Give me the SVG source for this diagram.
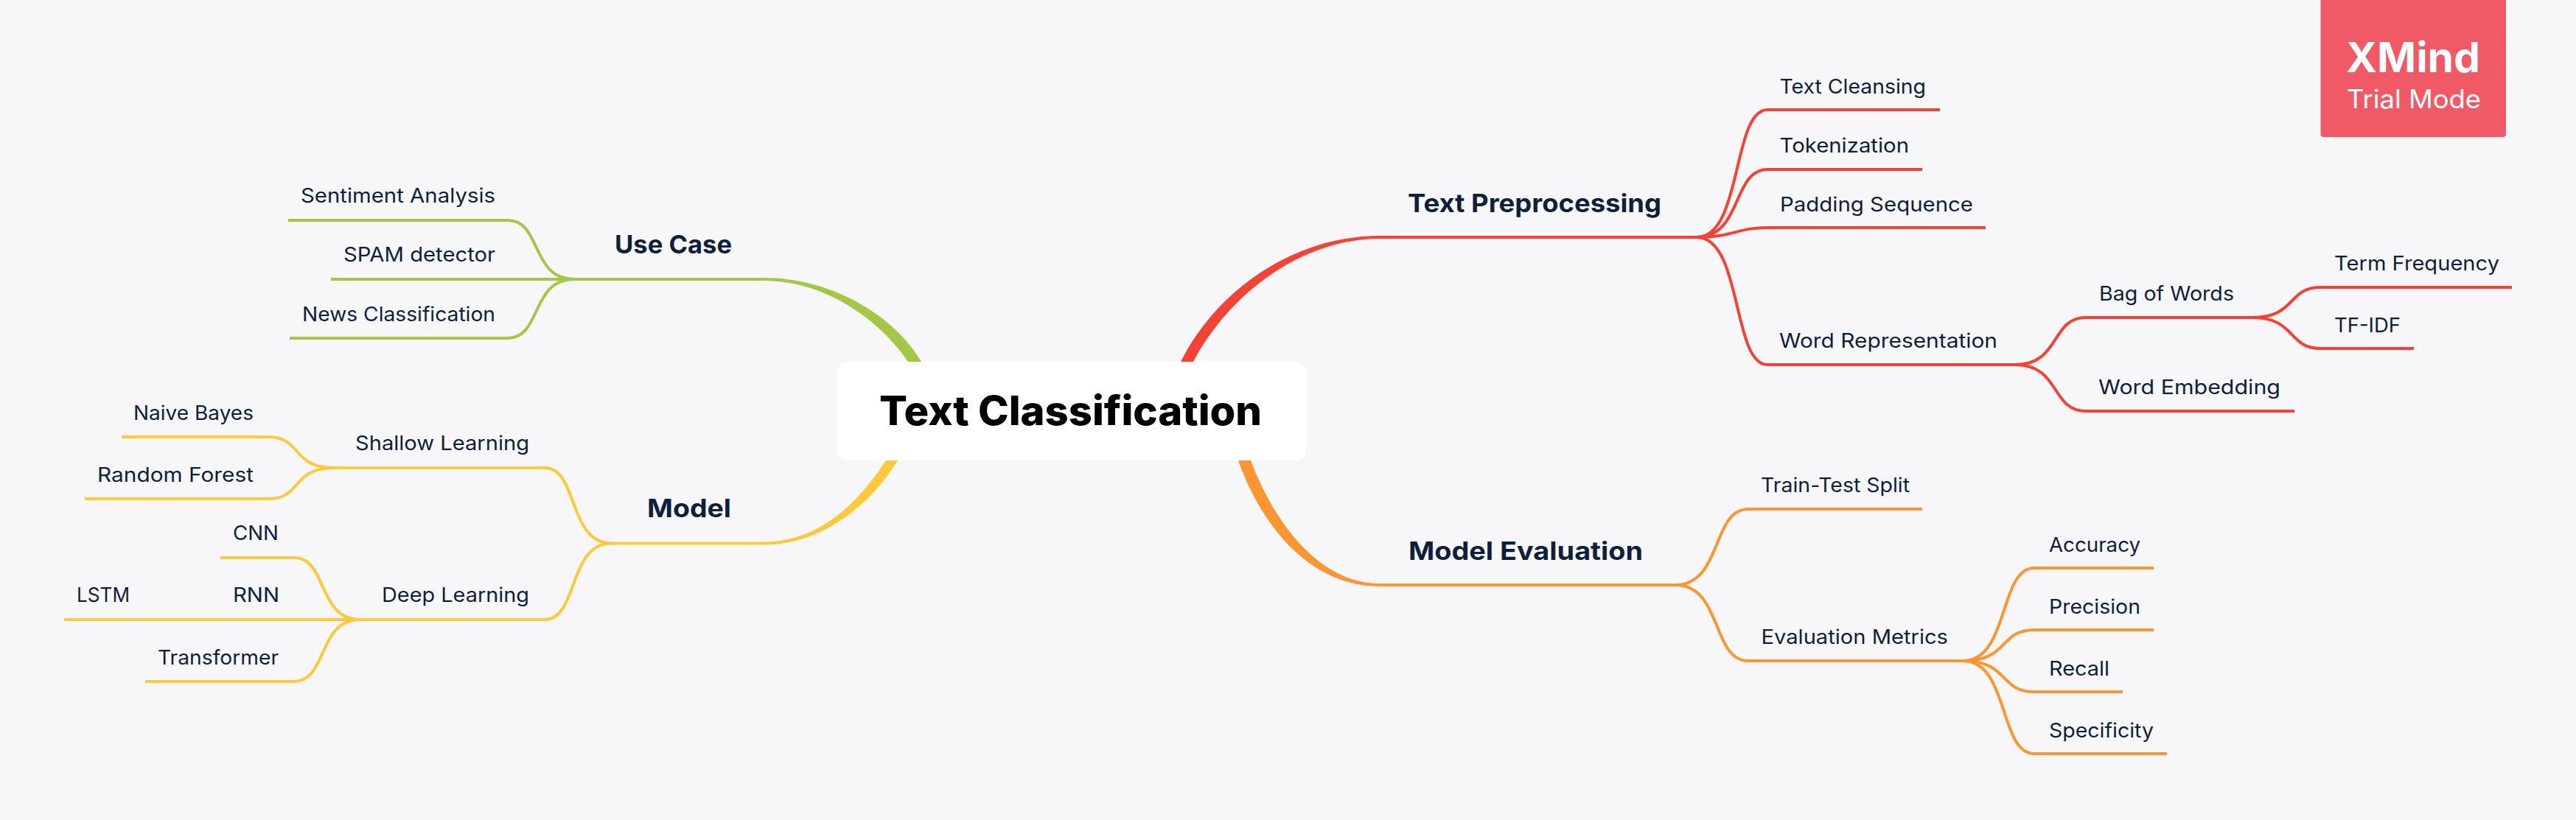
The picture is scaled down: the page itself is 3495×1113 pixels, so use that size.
<svg xmlns="http://www.w3.org/2000/svg" width="3495" height="1113" viewBox="0 0 3495 1113">
<style>
text{font-family:Inter,"Noto Sans","Liberation Sans",sans-serif;fill:#0f1e3a}
.leaf{font-size:27px;font-weight:400}
.main{font-size:34px;font-weight:700}
.root{font-size:55px;font-weight:800;fill:#000}
.wm{fill:#fff}
.c{fill:none;stroke-width:4}
.r{stroke:#f44336}.o{stroke:#fb9630}.y{stroke:#ffc93c}.g{stroke:#a5c648}
</style>
<rect width="3495" height="1113" fill="#f7f7fa"/>
<g id="connectors">
<path fill="#f44336" d="M1602,491C1650,395 1755,320 1872,320L2302,320V324H1872C1765,324 1667,400 1619,491Z"/>
<path fill="#fb9630" d="M1680,625C1710,710 1775,796 1872,796L2273,796V792H1872C1785,792 1725,700 1697,625Z"/>
<path fill="#ffc93c" d="M1202,625C1172,670 1120,735.500 1036,735.500L830,735.500V739.500H1036C1125,739.500 1190,672 1218,625Z"/>
<path fill="#a5c648" d="M1250,491C1215,430 1130,377 1036,377L779,377V381H1036C1125,381 1198,440 1232,491Z"/>
<g class="c r">
<path d="M2302,322C2364,322 2350,149 2398,149"/>
<path d="M2302,322C2364,322 2350,230 2398,230"/>
<path d="M2302,322C2352,322 2356,309 2398,309"/>
<path d="M2302,322C2364,322 2350,495 2398,495"/>
<path d="M2734,495C2796,495 2782,431 2830,431"/>
<path d="M2734,495C2796,495 2782,558 2830,558"/>
<path d="M3056,431C3115,431 3104,390 3148,390"/>
<path d="M3056,431C3115,431 3104,473 3148,473"/>
</g>
<g class="c o">
<path d="M2273,794C2337,794 2322,691 2372,691"/>
<path d="M2273,794C2337,794 2322,897 2372,897"/>
<path d="M2663,897C2726,897 2712,771 2760,771"/>
<path d="M2663,897C2726,897 2712,855 2760,855"/>
<path d="M2663,897C2726,897 2712,939 2760,939"/>
<path d="M2663,897C2726,897 2712,1023 2760,1023"/>
</g>
<g class="c y">
<path d="M830,737.500C770,737.500 785,635 739,635"/>
<path d="M830,737.500C770,737.500 785,841 739,841"/>
<path d="M453,635C395,635 410,593 364,593"/>
<path d="M453,635C395,635 410,677 364,677"/>
<path d="M489,841C430,841 445,757 399,757"/>
<path d="M489,841H299"/>
<path d="M489,841C430,841 445,925 399,925"/>
</g>
<g class="c g">
<path d="M779,379C720,379 735,299 689,299"/>
<path d="M779,379H689"/>
<path d="M779,379C720,379 735,459 689,459"/>
</g>
</g>
<g id="n-root"><rect x="1136" y="491" width="636" height="134" rx="14" fill="#fff"/><text class="root" x="1193" y="576.500" textLength="519" lengthAdjust="spacingAndGlyphs">Text Classification</text></g>
<g id="n-text-preprocessing"><text class="main" x="1910" y="287.500" textLength="344" lengthAdjust="spacingAndGlyphs">Text Preprocessing</text></g>
<g id="n-model-evaluation"><text class="main" x="1911" y="759.500" textLength="318" lengthAdjust="spacingAndGlyphs">Model Evaluation</text></g>
<g id="n-use-case"><text class="main" x="834" y="343.500" textLength="159" lengthAdjust="spacingAndGlyphs">Use Case</text></g>
<g id="n-model"><text class="main" x="878" y="701.500" textLength="114" lengthAdjust="spacingAndGlyphs">Model</text></g>
<g id="n-text-cleansing"><path class="c r" d="M2398,149H2632"/><text class="leaf" x="2414.500" y="127.300" textLength="198.500" lengthAdjust="spacingAndGlyphs">Text Cleansing</text></g>
<g id="n-tokenization"><path class="c r" d="M2398,230H2608"/><text class="leaf" x="2414.500" y="207.300" textLength="175.500" lengthAdjust="spacingAndGlyphs">Tokenization</text></g>
<g id="n-padding-sequence"><path class="c r" d="M2398,309H2694"/><text class="leaf" x="2415" y="287.300" textLength="262" lengthAdjust="spacingAndGlyphs">Padding Sequence</text></g>
<g id="n-word-representation"><path class="c r" d="M2398,495H2734"/><text class="leaf" x="2414" y="472.300" textLength="296" lengthAdjust="spacingAndGlyphs">Word Representation</text></g>
<g id="n-bag-of-words"><path class="c r" d="M2830,431H3056"/><text class="leaf" x="2848" y="408.300" textLength="183" lengthAdjust="spacingAndGlyphs">Bag of Words</text></g>
<g id="n-word-embedding"><path class="c r" d="M2830,558H3113"/><text class="leaf" x="2847" y="535.300" textLength="247" lengthAdjust="spacingAndGlyphs">Word Embedding</text></g>
<g id="n-term-frequency"><path class="c r" d="M3148,390H3408"/><text class="leaf" x="3167" y="367.300" textLength="224" lengthAdjust="spacingAndGlyphs">Term Frequency</text></g>
<g id="n-tf-idf"><path class="c r" d="M3148,473H3275"/><text class="leaf" x="3167" y="451.300" textLength="90" lengthAdjust="spacingAndGlyphs">TF-IDF</text></g>
<g id="n-train-test"><path class="c o" d="M2372,691H2608"/><text class="leaf" x="2389" y="668.300" textLength="202" lengthAdjust="spacingAndGlyphs">Train-Test Split</text></g>
<g id="n-evaluation-metrics"><path class="c o" d="M2372,897H2663"/><text class="leaf" x="2389.500" y="874.300" textLength="253.500" lengthAdjust="spacingAndGlyphs">Evaluation Metrics</text></g>
<g id="n-accuracy"><path class="c o" d="M2760,771H2922"/><text class="leaf" x="2780" y="749.300" textLength="124" lengthAdjust="spacingAndGlyphs">Accuracy</text></g>
<g id="n-precision"><path class="c o" d="M2760,855H2922"/><text class="leaf" x="2780" y="833.300" textLength="124" lengthAdjust="spacingAndGlyphs">Precision</text></g>
<g id="n-recall"><path class="c o" d="M2760,939H2880"/><text class="leaf" x="2780" y="917.300" textLength="82" lengthAdjust="spacingAndGlyphs">Recall</text></g>
<g id="n-specificity"><path class="c o" d="M2760,1023H2940"/><text class="leaf" x="2780" y="1001.300" textLength="142" lengthAdjust="spacingAndGlyphs">Specificity</text></g>
<g id="n-sentiment"><path class="c g" d="M391,299H689"/><text class="leaf" x="408" y="275.300" textLength="264" lengthAdjust="spacingAndGlyphs">Sentiment Analysis</text></g>
<g id="n-spam"><path class="c g" d="M449,379H689"/><text class="leaf" x="466" y="355.300" textLength="206" lengthAdjust="spacingAndGlyphs">SPAM detector</text></g>
<g id="n-news"><path class="c g" d="M393,459H689"/><text class="leaf" x="410" y="436.300" textLength="262" lengthAdjust="spacingAndGlyphs">News Classification</text></g>
<g id="n-shallow"><path class="c y" d="M453,635H739"/><text class="leaf" x="482" y="611.300" textLength="236" lengthAdjust="spacingAndGlyphs">Shallow Learning</text></g>
<g id="n-deep"><path class="c y" d="M489,841H739"/><text class="leaf" x="518" y="817.300" textLength="200" lengthAdjust="spacingAndGlyphs">Deep Learning</text></g>
<g id="n-naive"><path class="c y" d="M165,593H364"/><text class="leaf" x="181" y="570.300" textLength="163" lengthAdjust="spacingAndGlyphs">Naive Bayes</text></g>
<g id="n-forest"><path class="c y" d="M115,677H364"/><text class="leaf" x="132" y="654.300" textLength="212" lengthAdjust="spacingAndGlyphs">Random Forest</text></g>
<g id="n-cnn"><path class="c y" d="M299,757H399"/><text class="leaf" x="316" y="733.300" textLength="62" lengthAdjust="spacingAndGlyphs">CNN</text></g>
<g id="n-rnn"><path class="c y" d="M299,841H399"/><text class="leaf" x="316" y="817.300" textLength="63" lengthAdjust="spacingAndGlyphs">RNN</text></g>
<g id="n-lstm"><path class="c y" d="M87,841H299"/><text class="leaf" x="104" y="817.300" textLength="72" lengthAdjust="spacingAndGlyphs">LSTM</text></g>
<g id="n-transformer"><path class="c y" d="M197,925H399"/><text class="leaf" x="214" y="902.300" textLength="164" lengthAdjust="spacingAndGlyphs">Transformer</text></g>
<g id="n-xmind-badge"><path d="M3148.500,0H3400V182a4,4 0 0 1-4,4H3152.500a4,4 0 0 1-4-4Z" fill="#f05a66"/>
<text class="wm" x="3183" y="97.700" font-size="56" font-weight="700" textLength="182" lengthAdjust="spacingAndGlyphs">XMind</text>
<text class="wm" x="3184" y="147.300" font-size="35" font-weight="400" textLength="182" lengthAdjust="spacingAndGlyphs">Trial Mode</text></g>
</svg>
